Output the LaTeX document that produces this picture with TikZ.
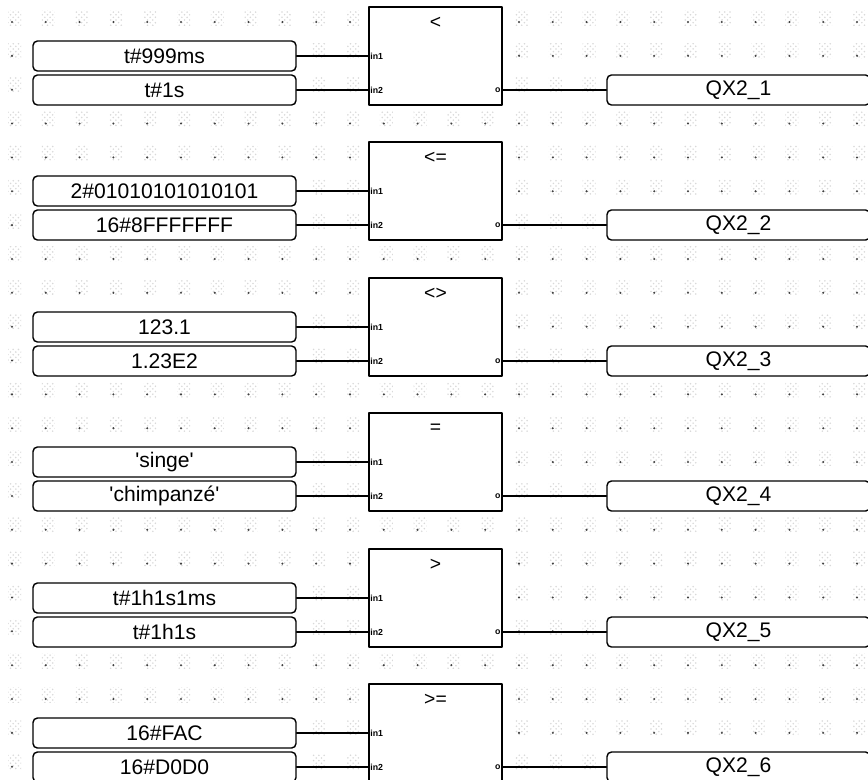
\documentclass[tikz,border=0pt]{standalone}
\usepackage{fontspec}
\setmainfont{Liberation Sans}
\usepackage{tikz}
\usetikzlibrary{patterns}
\tikzset{
  cnst/.style={draw, fill=white, rounded corners=2.5pt, minimum width=5.26cm, minimum height=0.6cm, inner sep=0pt, line width=0.8pt, font=\fontsize{12}{14}\selectfont},
  fblock/.style={draw, fill=white, minimum width=2.66cm, minimum height=1.96cm, line width=0.8pt},
  opname/.style={font=\fontsize{11}{12}\selectfont, inner sep=0pt},
  pinlbl/.style={font=\fontsize{5}{5}\selectfont\bfseries, inner sep=1pt},
  wire/.style={line width=0.9pt},
  gdot/.style={fill=black!75},
  ghatch/.style={pattern=crosshatch dots, pattern color=black!15},
  every picture/.style={line cap=round, line join=round}
}
\begin{document}
\begin{tikzpicture}[x=0.02cm, y=-0.02cm]
  \useasboundingbox (0,0) rectangle (868,779);
  \clip (0,0) rectangle (868,779);
  \foreach \i in {0,...,25} {
    \foreach \j in {0,...,22} {
      \fill[ghatch] (12+33.8*\i-4, 22+33.85*\j-12) rectangle (12+33.8*\i+9, 22+33.85*\j+3);
      \fill[gdot] (12+33.8*\i, 22+33.85*\j) circle (0.65pt);
    }
  }

  \node[cnst] (a1) at (164.5,56) {t\#999ms};
  \node[cnst] (c1) at (164.5,90) {t\#1s};
  \node[fblock] (b1) at (435.5,56) {};
  \node[opname] (op1) at (435.5,23) {<};
  \node[pinlbl, anchor=west] (b1i1) at (a1.east -| b1.west) {in1};
  \node[pinlbl, anchor=west] (b1i2) at (c1.east -| b1.west) {in2};
  \node[pinlbl, anchor=east] (b1o) at (c1.east -| b1.east) {o};
  \node[cnst] (q1) at (738.5,90) {QX2\_1};
  \draw[wire] (a1.east)--(b1i1.west);
  \draw[wire] (c1.east)--(b1i2.west);
  \draw[wire] (b1o.east)--(q1.west);

  \node[cnst] (a2) at (164.5,191) {2\#01010101010101};
  \node[cnst] (c2) at (164.5,225) {16\#8FFFFFFF};
  \node[fblock] (b2) at (435.5,191) {};
  \node[opname] (op2) at (435.5,158) {<=};
  \node[pinlbl, anchor=west] (b2i1) at (a2.east -| b2.west) {in1};
  \node[pinlbl, anchor=west] (b2i2) at (c2.east -| b2.west) {in2};
  \node[pinlbl, anchor=east] (b2o) at (c2.east -| b2.east) {o};
  \node[cnst] (q2) at (738.5,225) {QX2\_2};
  \draw[wire] (a2.east)--(b2i1.west);
  \draw[wire] (c2.east)--(b2i2.west);
  \draw[wire] (b2o.east)--(q2.west);

  \node[cnst] (a3) at (164.5,327) {123.1};
  \node[cnst] (c3) at (164.5,361) {1.23E2};
  \node[fblock] (b3) at (435.5,327) {};
  \node[opname] (op3) at (435.5,294) {<>};
  \node[pinlbl, anchor=west] (b3i1) at (a3.east -| b3.west) {in1};
  \node[pinlbl, anchor=west] (b3i2) at (c3.east -| b3.west) {in2};
  \node[pinlbl, anchor=east] (b3o) at (c3.east -| b3.east) {o};
  \node[cnst] (q3) at (738.5,361) {QX2\_3};
  \draw[wire] (a3.east)--(b3i1.west);
  \draw[wire] (c3.east)--(b3i2.west);
  \draw[wire] (b3o.east)--(q3.west);

  \node[cnst] (a4) at (164.5,462) {\textquotesingle singe\textquotesingle};
  \node[cnst] (c4) at (164.5,496) {\textquotesingle chimpanzé\textquotesingle};
  \node[fblock] (b4) at (435.5,462) {};
  \node[opname] (op4) at (435.5,429) {=};
  \node[pinlbl, anchor=west] (b4i1) at (a4.east -| b4.west) {in1};
  \node[pinlbl, anchor=west] (b4i2) at (c4.east -| b4.west) {in2};
  \node[pinlbl, anchor=east] (b4o) at (c4.east -| b4.east) {o};
  \node[cnst] (q4) at (738.5,496) {QX2\_4};
  \draw[wire] (a4.east)--(b4i1.west);
  \draw[wire] (c4.east)--(b4i2.west);
  \draw[wire] (b4o.east)--(q4.west);

  \node[cnst] (a5) at (164.5,598) {t\#1h1s1ms};
  \node[cnst] (c5) at (164.5,632) {t\#1h1s};
  \node[fblock] (b5) at (435.5,598) {};
  \node[opname] (op5) at (435.5,565) {>};
  \node[pinlbl, anchor=west] (b5i1) at (a5.east -| b5.west) {in1};
  \node[pinlbl, anchor=west] (b5i2) at (c5.east -| b5.west) {in2};
  \node[pinlbl, anchor=east] (b5o) at (c5.east -| b5.east) {o};
  \node[cnst] (q5) at (738.5,632) {QX2\_5};
  \draw[wire] (a5.east)--(b5i1.west);
  \draw[wire] (c5.east)--(b5i2.west);
  \draw[wire] (b5o.east)--(q5.west);

  \node[cnst] (a6) at (164.5,733) {16\#FAC};
  \node[cnst] (c6) at (164.5,767) {16\#D0D0};
  \node[fblock] (b6) at (435.5,733) {};
  \node[opname] (op6) at (435.5,700) {>=};
  \node[pinlbl, anchor=west] (b6i1) at (a6.east -| b6.west) {in1};
  \node[pinlbl, anchor=west] (b6i2) at (c6.east -| b6.west) {in2};
  \node[pinlbl, anchor=east] (b6o) at (c6.east -| b6.east) {o};
  \node[cnst] (q6) at (738.5,767) {QX2\_6};
  \draw[wire] (a6.east)--(b6i1.west);
  \draw[wire] (c6.east)--(b6i2.west);
  \draw[wire] (b6o.east)--(q6.west);
\end{tikzpicture}
\end{document}
